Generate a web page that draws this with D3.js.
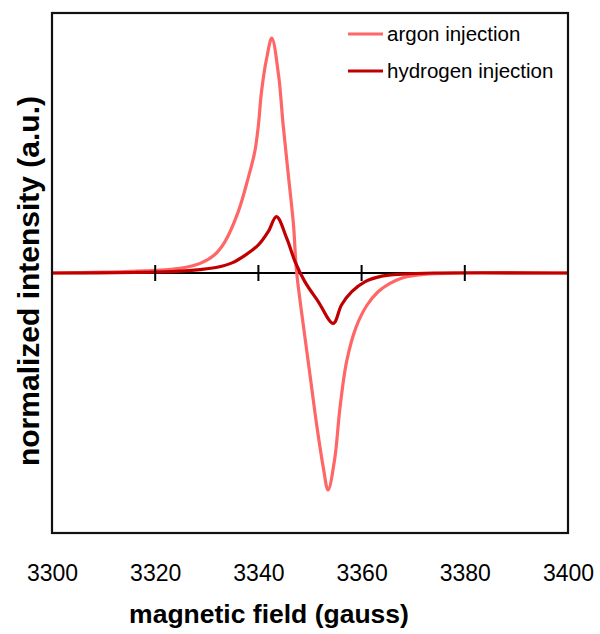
<!DOCTYPE html>
<html>
<head>
<meta charset="utf-8">
<script src="https://cdn.jsdelivr.net/npm/d3@7"></script>
<style>
  html, body { margin: 0; padding: 0; background: #fff; }
  svg { display: block; }
  text { font-family: "Liberation Sans", Arial, sans-serif; fill: #000; }
</style>
</head>
<body>
<svg id="chart" width="600" height="634"></svg>
<script>
// ---- data ----
const xTickValues = [3300, 3320, 3340, 3360, 3380, 3400];
const zeroTickValues = [3320, 3340, 3360, 3380];
const seriesNames = ["argon injection", "hydrogen injection"];

const argonField = [3300, 3310, 3318, 3324.8, 3328.7, 3331.5, 3333.5, 3336.1, 3338.0, 3339.3, 3340.0, 3340.6, 3341.6, 3342.6, 3343.9, 3344.8, 3345.8, 3346.8, 3347.4, 3348.7, 3350.0, 3351.3, 3352.6, 3353.5, 3354.8, 3355.8, 3357.1, 3358.9, 3361.0, 3363.2, 3365.5, 3368, 3372, 3380, 3400];
const argonValue = [0, 0.003, 0.008, 0.018, 0.037, 0.07, 0.12, 0.236, 0.364, 0.467, 0.569, 0.697, 0.826, 0.903, 0.762, 0.569, 0.377, 0.185, 0.005, -0.2, -0.392, -0.585, -0.751, -0.835, -0.713, -0.52, -0.34, -0.21, -0.125, -0.072, -0.04, -0.018, -0.005, 0, 0];

const hydrogenField = [3300, 3316, 3324, 3328.7, 3332, 3335, 3337.4, 3340.0, 3341.9, 3343.5, 3345.5, 3347.1, 3349.0, 3351.6, 3354.5, 3356.1, 3358.1, 3360.7, 3363.9, 3368, 3374, 3400];
const hydrogenValue = [0, 0.002, 0.006, 0.013, 0.022, 0.04, 0.068, 0.108, 0.159, 0.217, 0.133, 0.044, -0.033, -0.11, -0.194, -0.123, -0.072, -0.033, -0.012, -0.004, 0, 0];

const colors = ["#ff6666", "#c00000"];

// ---- layout ----
const svg = d3.select("#chart");
const mLeft = 52, mRight = 568, mTop = 13, mBottom = 533;

const x = d3.scaleLinear().domain([3300, 3400]).range([mLeft, mRight]);
const y = d3.scaleLinear().domain([-1, 1]).range([mBottom, mTop]);

// zero line
svg.append("line")
  .attr("x1", x(3300)).attr("x2", x(3400))
  .attr("y1", y(0)).attr("y2", y(0))
  .attr("stroke", "#000").attr("stroke-width", 2);

// series
const line = d3.line()
  .x(d => x(d[0]))
  .y(d => y(d[1]))
  .curve(d3.curveCatmullRom.alpha(0.5));

const argon = argonField.map((f, i) => [f, argonValue[i]]);
const hydrogen = hydrogenField.map((f, i) => [f, hydrogenValue[i]]);

svg.append("path").datum(argon)
  .attr("d", line).attr("fill", "none")
  .attr("stroke", colors[0]).attr("stroke-width", 3.2)
  .attr("stroke-linejoin", "round");
svg.append("path").datum(hydrogen)
  .attr("d", line).attr("fill", "none")
  .attr("stroke", colors[1]).attr("stroke-width", 3.2)
  .attr("stroke-linejoin", "round");

// ticks on zero line
svg.append("g").selectAll("line").data(zeroTickValues).join("line")
  .attr("x1", d => x(d)).attr("x2", d => x(d))
  .attr("y1", y(0) - 8).attr("y2", y(0) + 8)
  .attr("stroke", "#000").attr("stroke-width", 2);

// frame
svg.append("rect")
  .attr("x", mLeft).attr("y", mTop)
  .attr("width", mRight - mLeft).attr("height", mBottom - mTop)
  .attr("fill", "none").attr("stroke", "#111").attr("stroke-width", 2.2);

// x tick labels via axis
const xAxis = d3.axisBottom(x).tickValues(xTickValues).tickSize(0).tickPadding(32).tickFormat(d3.format("d"));
const gx = svg.append("g").attr("transform", `translate(0,${mBottom})`).call(xAxis);
gx.select(".domain").remove();
gx.selectAll("text")
  .style("font-family", '"Liberation Sans", Arial, sans-serif')
  .style("font-size", "23px").attr("fill", "#000");

// axis titles
svg.append("text")
  .attr("x", 269).attr("y", 623)
  .attr("text-anchor", "middle")
  .style("font-size", "26.5px").style("font-weight", "bold")
  .text("magnetic field (gauss)");

svg.append("text")
  .attr("transform", "translate(39,281) rotate(-90)")
  .attr("text-anchor", "middle")
  .style("font-size", "30px").style("font-weight", "bold")
  .text("normalized intensity (a.u.)");

// legend
const legendY = [34, 71];
seriesNames.forEach((name, i) => {
  svg.append("line")
    .attr("x1", 348).attr("x2", 383)
    .attr("y1", legendY[i]).attr("y2", legendY[i])
    .attr("stroke", colors[i]).attr("stroke-width", 3.2);
  svg.append("text")
    .attr("x", 387).attr("y", legendY[i] + 7)
    .style("font-size", "20.5px")
    .text(name);
});
</script>
</body>
</html>
